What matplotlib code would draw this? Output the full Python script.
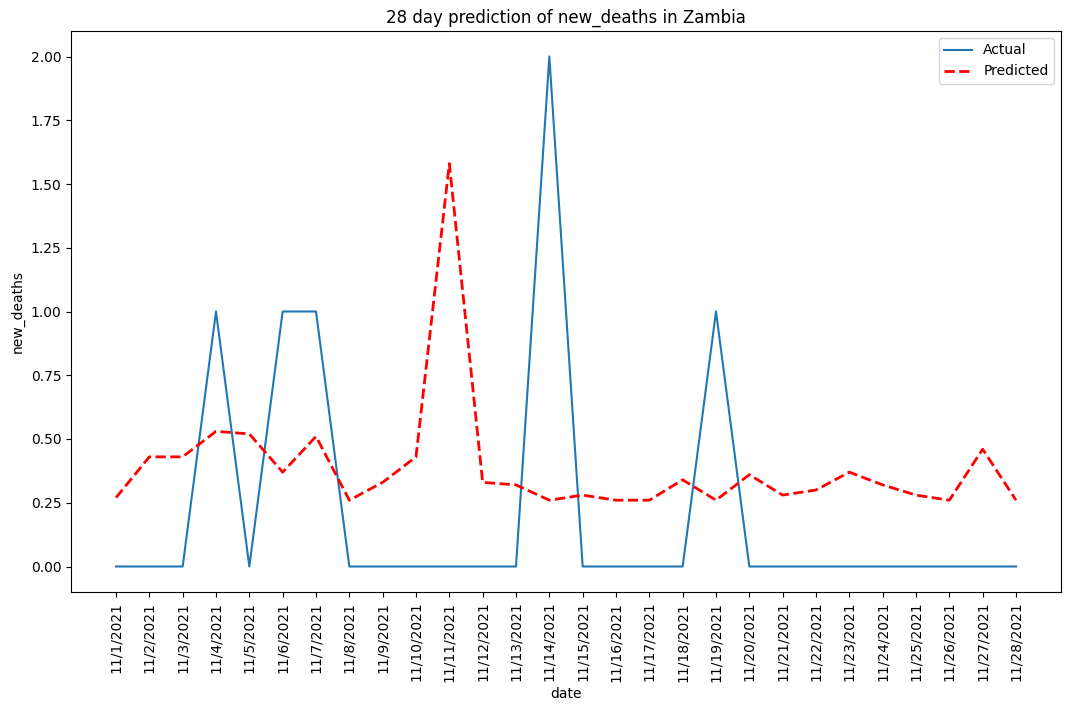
import matplotlib
matplotlib.use("Agg")
import matplotlib.pyplot as plt

dates = [f"11/{d}/2021" for d in range(1, 29)]
actual = [0,0,0,1,0,1,1,0,0,0,0,0,0,2,0,0,0,0,1,0,0,0,0,0,0,0,0,0]
predicted = [0.27,0.43,0.43,0.53,0.52,0.37,0.51,0.26,0.33,0.43,1.58,0.33,0.32,0.26,
             0.28,0.26,0.26,0.34,0.26,0.36,0.28,0.30,0.37,0.32,0.28,0.26,0.46,0.26]

fig = plt.figure(figsize=(10.7, 7.09), dpi=100)
ax = fig.add_axes([71/1070, 1-592/709, (1061-71)/1070, (592-31)/709])
ax.plot(dates, actual, label="Actual")
ax.plot(dates, predicted, "r--", lw=2, label="Predicted")
ax.set_title("28 day prediction of new_deaths in Zambia")
ax.set_xlabel("date")
ax.set_ylabel("new_deaths")
ax.tick_params(axis="x", rotation=90)
ax.legend(loc="upper right")
fig.savefig("out.png")
